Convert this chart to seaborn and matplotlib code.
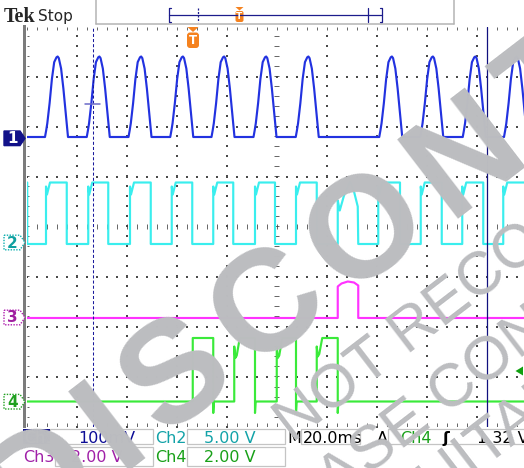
import matplotlib
matplotlib.use("Agg")
import numpy as np
import pandas as pd
import matplotlib.pyplot as plt
import seaborn as sns
from matplotlib.patches import Rectangle, Polygon, FancyBboxPatch
from matplotlib.textpath import TextPath
from matplotlib.font_manager import FontProperties

# ---------------- values ----------------
# time in ms (20 ms/div, 10 div across), vertical position in divisions (-4..4)
channels = ["Ch1", "Ch2", "Ch3", "Ch4"]

ch1_base = 1.79
ch1_peak = 3.40
ch1_start_ms = [7.4, 24.1, 40.8, 57.5, 74.0, 90.8, 107.7, 141.1, 157.5, 174.5, 191.0]
ch1_width_ms = 9.2
ch1_shape_frac = [0.00, 0.05, 0.10, 0.20, 0.30, 0.40, 0.50, 0.55, 0.60, 0.70, 0.80, 0.90, 1.00]
ch1_shape_amp = [0.00, 0.08, 0.17, 0.42, 0.72, 0.93, 0.99, 1.00, 0.98, 0.85, 0.60, 0.30, 0.00]

ch2_low = -0.35
ch2_high = 0.88
ch2_first_fall_ms = 0.3
ch2_rise_ms = [7.8, 24.7, 41.4, 58.1, 74.7, 91.4, 107.8, 140.7, 157.7, 174.3, 190.7]
ch2_fall_ms = [16.1, 32.7, 49.7, 66.3, 82.7, 99.4, 116.1, 149.4, 166.1, 182.7, 201.0]
ch2_edge_dt = [0.0, 0.0, 0.4, 1.6]
ch2_edge_v = [-0.35, 0.80, 0.64, 0.88]
ch2_hump_t = [124.5, 124.5, 125.3, 127.0, 129.4, 131.0, 132.5, 132.7]
ch2_hump_v = [-0.35, 0.52, 0.32, 0.62, 0.90, 0.70, 0.40, -0.35]

ch3_t = [0.0, 124.5, 124.5, 126.0, 128.5, 131.0, 132.7, 132.7, 200.0]
ch3_v = [-1.83, -1.83, -1.20, -1.14, -1.10, -1.12, -1.18, -1.83, -1.83]

ch4_low = -3.50
ch4_high = -2.23
ch4_spike = -3.73
ch4_rise_ms = [66.5, 83.1, 100.1, 116.1]
ch4_fall_ms = [74.7, 91.4, 107.8, 124.5]
ch4_dip = [None, -2.63, -2.63, -2.60]

cursor_dashed_ms = 26.4
cursor_solid_ms = 184.0
ref_mark_ms = [23.4, 29.4]
ref_mark_div = 2.45

status_row1 = [("Ch1", "100mV"), ("Ch2", "5.00 V"), ("M", "20.0ms"), ("A", "Ch4", "ʃ", "1.32 V")]
status_row2 = [("Ch3", "2.00 V"), ("Ch4", "2.00 V")]

watermark_lines = ["DISCONTINUED", "NOT RECOMMENDED FOR NEW DESIGN", "PLEASE CONTACT", "SUITABLE ALTERNATIVE"]

# ---------------- build traces ----------------
def build_ch1():
    t, v = [0.0], [ch1_base]
    for s in ch1_start_ms:
        for f, a in zip(ch1_shape_frac, ch1_shape_amp):
            t.append(s + f * ch1_width_ms)
            v.append(ch1_base + a * (ch1_peak - ch1_base))
    t.append(max(t[-1], 200.0) + 1)
    v.append(ch1_base)
    return t, v

def build_ch2():
    segs = []
    for r, f in zip(ch2_rise_ms, ch2_fall_ms):
        pts = [(r + dt, vv) for dt, vv in zip(ch2_edge_dt, ch2_edge_v)]
        pts += [(f, ch2_high), (f, ch2_low)]
        segs.append(pts)
    segs.append(list(zip(ch2_hump_t, ch2_hump_v)))
    segs.sort(key=lambda s: s[0][0])
    t = [0.0, ch2_first_fall_ms, ch2_first_fall_ms]
    v = [ch2_high, ch2_high, ch2_low]
    for s in segs:
        for a, b in s:
            t.append(a); v.append(b)
    if t[-1] < 200:
        t.append(201.0); v.append(v[-1])
    return t, v

def build_ch4():
    t, v = [0.0], [ch4_low]
    for r, f, d in zip(ch4_rise_ms, ch4_fall_ms, ch4_dip):
        t.append(r); v.append(ch4_low)
        if d is None:
            t.append(r); v.append(ch4_high)
        else:
            t += [r, r + 0.4, r + 1.0, r + 2.2]
            v += [ch4_high - 0.17, d, d + 0.05, ch4_high]
        t += [f, f, f + 0.25]
        v += [ch4_high, ch4_spike, ch4_low]
    t.append(201.0); v.append(ch4_low)
    return t, v

frames = []
for name, (tt, vv) in zip(channels, [build_ch1(), build_ch2(), (ch3_t, ch3_v), build_ch4()]):
    frames.append(pd.DataFrame({"ch": name, "t": tt, "v": vv}))
df = pd.concat(frames, ignore_index=True)

# ---------------- figure ----------------
sns.set_style("white")
plt.rcParams["font.family"] = ["DejaVu Sans"]
plt.rcParams["lines.scale_dashes"] = False

W, H, DPI = 524, 468, 100
fig = plt.figure(figsize=(W / DPI, H / DPI), dpi=DPI, facecolor="white")
ax = fig.add_axes([26.5 / W, 41.5 / H, 500 / W, 400 / H])
ax.set_xlim(0, 200)
ax.set_ylim(-4, 4)
ax.set_axis_off()

grid_c = "#4a4a4a"
dot = dict(marker="s", s=0.6, linewidths=0, color=grid_c, zorder=1)
dense = dict(marker="s", s=0.45, linewidths=0, color="#3a3a3a", zorder=1)
ys = np.arange(-4, 4.001, 0.2)
xs = np.arange(0, 200.01, 4)
for gx in [20, 40, 60, 80, 120, 140, 160, 180]:
    ax.scatter(np.full_like(ys, gx), ys, **dot)
for gy in [-3, -2, -1, 1, 2, 3]:
    ax.scatter(xs, np.full_like(xs, gy), **dot)
ys_d = np.arange(-4, 4.001, 0.04)
xs_d = np.arange(0, 200.01, 0.8)
ax.scatter(np.full_like(ys_d, 100), ys_d, **dense)
for gy in [0, -4, 4]:
    ax.scatter(xs_d, np.full_like(xs_d, gy), **dense)
tk = dict(color="#3a3a3a", lw=0.55, zorder=1)
ax.vlines(xs, -0.05, 0.05, **tk)
ax.hlines(ys, 100 - 1.0, 100 + 1.0, **tk)
ax.vlines(xs, 3.93, 4.0, **tk)
ax.vlines(xs, -4.0, -3.93, **tk)
ax.hlines(ys, 0, 0.9, **tk)

palette = {"Ch1": "#2232e0", "Ch2": "#3aeeee", "Ch3": "#ff33ff", "Ch4": "#3aea3a"}
sns.lineplot(data=df, x="t", y="v", hue="ch", palette=palette, hue_order=channels,
             estimator=None, sort=False, legend=False, lw=1.55, ax=ax, zorder=3)

ax.axvline(cursor_dashed_ms, color="#1a1a9c", lw=0.75, ls=(0, (2.2, 1.5)), zorder=4)
ax.axvline(cursor_solid_ms, color="#10107e", lw=0.9, zorder=4)
ax.plot(ref_mark_ms, [ref_mark_div, ref_mark_div], color="#6a6ac8", lw=1.1, zorder=4)

# ---------------- overlay in pixel coordinates ----------------
ov = fig.add_axes([0, 0, 1, 1], zorder=5)
ov.set_xlim(0, W)
ov.set_ylim(H, 0)
ov.set_axis_off()
ov.patch.set_alpha(0)

ov.add_patch(Rectangle((23, 25), 3, 403, color="#7c7c7c", lw=0))

# header
ov.text(4, 22, "Tek", family="Liberation Serif", fontweight="bold", fontsize=14.5, va="baseline")
ov.text(38, 20.7, "Stop", fontsize=11, va="baseline")
hc = "#b4b4b4"
ov.plot([96, 96], [0, 24], color=hc, lw=1.1)
ov.plot([96, 454], [23.8, 23.8], color=hc, lw=1.1)
ov.plot([454, 454], [0, 24], color=hc, lw=1.1)
navy = "#1c1c8c"
ov.plot([169, 382], [15, 15], color=navy, lw=0.9)
ov.plot([170.5, 168.5, 168.5, 170.5], [7.5, 7.5, 22, 22], color=navy, lw=0.9)
ov.plot([380, 382, 382, 380], [7.5, 7.5, 22, 22], color=navy, lw=0.9)
ov.plot([198, 198], [8, 22], color=navy, lw=0.9, ls=(0, (1.5, 1)))
ov.plot([367.5, 367.5], [8, 22], color=navy, lw=0.9)
orange = "#f5821f"
ov.add_patch(Polygon([(235.5, 7), (243.5, 7), (239.5, 10.5)], color=orange, lw=0))
ov.add_patch(FancyBboxPatch((235.5, 11), 8, 11, boxstyle="round,pad=0,rounding_size=2", color=orange, lw=0))
ov.text(239.5, 16.8, "T", color="white", fontweight="bold", fontsize=6.5, ha="center", va="center")

ov.add_patch(Polygon([(187.5, 27), (198.5, 27), (193, 32)], color=orange, lw=0))
ov.add_patch(FancyBboxPatch((187, 32.5), 12, 15.5, boxstyle="round,pad=0,rounding_size=3", color=orange, lw=0))
ov.text(193, 40.5, "T", color="white", fontweight="bold", fontsize=8.5, ha="center", va="center")

def marker(yc, label, face, edge, tcol, ls="solid"):
    pts = [(4, yc - 7.3), (20, yc - 7.3), (25, yc), (20, yc + 7.3), (4, yc + 7.3)]
    ov.add_patch(Polygon(pts, facecolor=face, edgecolor=edge, lw=1.0, ls=ls))
    ov.text(12.5, yc + 0.5, label, color=tcol, fontweight="bold", fontsize=11, ha="center", va="center")

marker(138.3, "1", "#12128a", "#12128a", "white")
marker(242.5, "2", "white", "#10b0b0", "#10a0a0", ls=(0, (1, 1)))
marker(317.5, "3", "white", "#b020b0", "#a020a0", ls=(0, (1, 1)))
marker(401.7, "4", "white", "#20a020", "#20a020", ls=(0, (1, 1)))

ov.add_patch(Polygon([(515.5, 371), (523, 366.5), (523, 375.5)], color="#10a010", lw=0))

# status bar
bc = "#c4c4c4"
for (x, y, w, h) in [(50, 429.3, 102.7, 14.7), (187.3, 429.3, 97.7, 14.7), (301, 429.3, 59, 14.7),
                     (388, 429.3, 140, 14.7), (55, 447, 97.7, 18.7), (187.3, 447, 97.7, 18.7)]:
    ov.add_patch(Rectangle((x, y), w, h, facecolor="none", edgecolor=bc, lw=0.9))
ov.add_patch(Rectangle((23.3, 429.3), 26.2, 14.7, color="#0c0c86", lw=0))
fs = 11.5
teal, purple, green = "#12a2a8", "#a020a8", "#18a018"
r1, r2 = 443, 462.5
ov.text(24, r1, status_row1[0][0], color="white", fontsize=fs, va="baseline")
ov.text(78, r1, status_row1[0][1], color="#0c0c96", fontsize=fs, va="baseline")
ov.text(155.5, r1, status_row1[1][0], color=teal, fontsize=fs, va="baseline")
ov.text(204, r1, status_row1[1][1], color=teal, fontsize=fs, va="baseline")
ov.text(287, r1, status_row1[2][0], color="black", fontsize=fs, va="baseline")
ov.text(303, r1, status_row1[2][1], color="black", fontsize=fs, va="baseline")
ov.text(377, r1, status_row1[3][0], color="black", fontsize=fs, va="baseline")
ov.text(400, r1, status_row1[3][1], color=green, fontsize=fs, va="baseline")
ov.text(443, r1, status_row1[3][2], color="black", fontsize=fs, fontweight="bold", va="baseline")
ov.text(477, r1, status_row1[3][3], color="black", fontsize=fs, va="baseline")
ov.text(23, r2, status_row2[0][0], color=purple, fontsize=fs, va="baseline")
ov.text(71, r2, status_row2[0][1], color=purple, fontsize=fs, va="baseline")
ov.text(155.5, r2, status_row2[1][0], color=green, fontsize=fs, va="baseline")
ov.text(204, r2, status_row2[1][1], color=green, fontsize=fs, va="baseline")

# ---------------- watermark ----------------
wm_color = "#bcbdc0"
ANG = 37.5
th = np.deg2rad(ANG)
u = np.array([np.cos(th), -np.sin(th)])
up = np.array([-np.sin(th), -np.cos(th)])

# big, widely tracked bold line: letters set one by one along the rotated baseline
big = watermark_lines[0]
adv = {"D": .722, "I": .278, "S": .667, "C": .722, "O": .778, "N": .722, "T": .611, "U": .722, "E": .667}
em_big, track = 145.0, 15.0
o_center = np.array([360.0, 221.0])
cents, s = [], 0.0
for i, chh in enumerate(big):
    s = adv[chh] / 2 * em_big if i == 0 else s + (adv[big[i - 1]] + adv[chh]) / 2 * em_big + track
    cents.append(s)
for i, chh in enumerate(big):
    c = o_center + (cents[i] - cents[4]) * u
    b = c - up * (0.716 * em_big / 2)
    ov.text(b[0], b[1], chh, rotation=ANG, rotation_mode="anchor", ha="center", va="baseline",
            fontsize=em_big * 72 / DPI, fontweight="bold", family="Liberation Sans",
            color=wm_color, zorder=50)

def place_line(text, em_px, targets):
    fp = FontProperties(family="Liberation Sans")
    anchors = []
    for idx, (tx, ty) in targets:
        full = TextPath((0, 0), text[:idx + 1], size=em_px, prop=fp).get_extents()
        one = TextPath((0, 0), text[idx], size=em_px, prop=fp).get_extents()
        gx = full.x1 - one.width / 2
        gy = (one.y0 + one.y1) / 2
        anchors.append(np.array([tx, ty]) - gx * u - gy * up)
    ax0, ay0 = np.mean(anchors, axis=0)
    ov.text(ax0, ay0, text, rotation=ANG, rotation_mode="anchor", ha="left", va="baseline",
            fontsize=em_px * 72 / DPI, family="Liberation Sans", color=wm_color, zorder=50)

place_line(watermark_lines[1], 61, [(0, (292, 405)), (6, (485, 282))])
place_line(watermark_lines[2], 61, [(7, (450, 385)), (8, (488, 358))])
place_line(watermark_lines[3], 61, [(3, (487, 440))])

fig.savefig("out.png", dpi=DPI, facecolor="white")
